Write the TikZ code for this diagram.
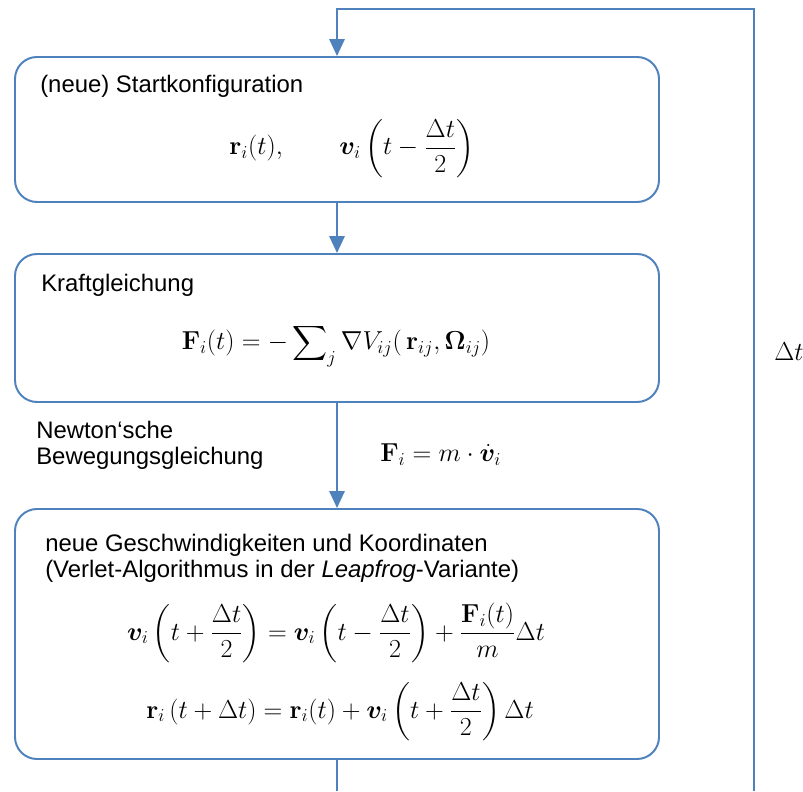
\RequirePackage{fix-cm}
\documentclass[tikz,border=0pt]{standalone}
\usepackage{amsmath,bm}
\usepackage[no-math]{fontspec}
\setmainfont{Liberation Sans}
\usetikzlibrary{arrows.meta}
\definecolor{flowblue}{RGB}{79,129,189}

\begin{document}
\begin{tikzpicture}[
        every node/.style={font=\fontsize{17}{20}\selectfont},
        stepbox/.style={draw=flowblue, line width=1.4pt, rounded corners=0.55cm, minimum width=16.1cm, inner sep=0pt},
        txt/.style={inner sep=0pt, anchor=base west},
        formula/.style={inner sep=0pt, anchor=base, font=\fontsize{18.5}{22}\selectfont},
        flowline/.style={draw=flowblue, line width=1.4pt},
        arrow/.style={flowline, -{Triangle[width=0.38cm,length=0.42cm]}}
    ]
    \useasboundingbox (0,0) rectangle (20.075,19.775);

    % Boxes
    \node[stepbox, minimum height=3.625cm] (start) at (8.425,16.5375) {};
    \node[stepbox, minimum height=3.7cm] (kraft) at (8.425,11.575) {};
    \node[stepbox, minimum height=6.25cm] (verlet) at (8.425,3.925) {};

    % Texts in the boxes
    \node[txt] (start_t) at (1.0,17.45) {(neue) Startkonfiguration};
    \node[formula] (start_f) at (8.8,15.9) {$\mathbf{r}_i(t),\qquad \bm{v}_i\left(t-\dfrac{\Delta t}{2}\right)$};

    \node[txt] (kraft_t) at (1.025,12.475) {Kraftgleichung};
    \node[formula] (kraft_f) at (8.4,11.025) {$\mathbf{F}_i(t) = -\displaystyle\sum\nolimits_j \nabla V_{ij}(\,\mathbf{r}_{ij},\bm{\Omega}_{ij})$};

    \node[txt] (verlet_t1) at (1.125,6.0) {neue Geschwindigkeiten und Koordinaten};
    \node[txt] (verlet_t2) at (1.125,5.35) {(Verlet-Algorithmus in der \textit{Leapfrog}-Variante)};
    \node[formula] (verlet_v) at (8.4,3.775) {$\bm{v}_i\left(t+\dfrac{\Delta t}{2}\right) = \bm{v}_i\left(t-\dfrac{\Delta t}{2}\right) + \dfrac{\mathbf{F}_i(t)}{m}\Delta t$};
    \node[formula] (verlet_r) at (8.5,1.825) {$\mathbf{r}_i\,(t+\Delta t) = \mathbf{r}_i(t) + \bm{v}_i\left(t+\dfrac{\Delta t}{2}\right)\Delta t$};

    % Newton label between box 2 and 3
    \node[txt] (newton_1) at (0.9,8.8) {Newton‘sche};
    \node[txt] (newton_2) at (0.9,8.15) {Bewegungsgleichung};
    \node[formula, anchor=base west] (newton_f) at (9.5,8.225) {$\mathbf{F}_i = m\cdot\dot{\bm{v}}_i$};

    % Time step on the loop
    \node[formula] (dt) at (19.725,10.75) {$\Delta t$};

    % Connectors
    \coordinate (loop_in) at (18.85,0);
    \coordinate (loop_top) at (8.425,19.55);
    \coordinate (loop_out) at (8.425,0);

    \draw[arrow] (loop_in) |- (loop_top) -- (start);
    \draw[arrow] (start) -- (kraft);
    \draw[arrow] (kraft) -- (verlet);
    \draw[flowline] (verlet) -- (loop_out);

\end{tikzpicture}
\end{document}
